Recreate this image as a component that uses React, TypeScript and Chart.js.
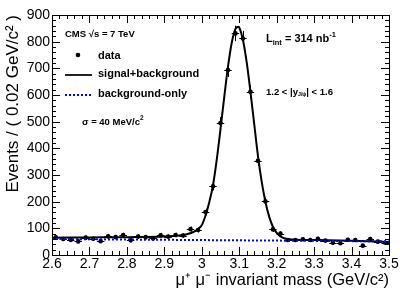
import React, { useEffect, useRef } from "react";
import { Chart, registerables } from "chart.js";

Chart.register(...registerables);

const FONT = "'Liberation Sans', Arial, Helvetica, sans-serif";

// Bin centres (GeV/c^2), 0.02 GeV/c^2 bins
const binCenters = [
  2.61, 2.63, 2.65, 2.67, 2.69, 2.71, 2.73, 2.75, 2.77, 2.79,
  2.81, 2.83, 2.85, 2.87, 2.89, 2.91, 2.93, 2.95, 2.97, 2.99,
  3.01, 3.03, 3.05, 3.07, 3.09, 3.11, 3.13, 3.15, 3.17, 3.19,
  3.21, 3.23, 3.25, 3.27, 3.29, 3.31, 3.33, 3.35, 3.37, 3.39,
  3.41, 3.43, 3.45, 3.47, 3.49,
];
// Events per bin
const counts = [
  66, 60, 56, 51, 65, 61, 52, 70, 67, 75,
  55, 69, 67, 62, 74, 69, 75, 73, 97, 94,
  161, 258, 495, 694, 831, 812, 612, 353, 201, 96,
  80, 56, 56, 59, 56, 61, 54, 46, 44, 57,
  56, 35, 60, 50, 46,
];
const binHalfWidth = 0.01;

// signal+background fit curve
const fitX = [
  2.6, 2.7, 2.8, 2.9, 2.94, 2.96, 2.98, 2.99, 3.0, 3.01, 3.02, 3.03, 3.04,
  3.05, 3.06, 3.07, 3.08, 3.09, 3.097, 3.1, 3.11, 3.12, 3.13, 3.14, 3.15,
  3.16, 3.17, 3.18, 3.19, 3.2, 3.21, 3.22, 3.24, 3.3, 3.4, 3.5,
];
const fitY = [
  65, 66, 67, 69, 73, 78, 88, 97, 112, 148, 198, 262, 358,
  472, 592, 706, 796, 848, 856, 853, 806, 722, 612, 492, 372,
  275, 199, 144, 106, 83, 70, 63, 58, 56, 53, 49,
];

// background-only
const bkgX = [2.6, 3.5];
const bkgY = [60, 51];

const xMin = 2.6, xMax = 3.5, xMajor = 0.1, xMinor = 0.02;
const yMin = 0, yMax = 900, yMajor = 100, yMinor = 20;

const legendLabels = ["data", "signal+background", "background-only"];

type Seg = { t: string; sup?: boolean; sub?: boolean; scale?: number };

function drawRich(ctx: CanvasRenderingContext2D, x: number, y: number, segs: Seg[], size: number, bold = true) {
  let cx = x;
  ctx.textBaseline = "middle";
  ctx.textAlign = "left";
  ctx.fillStyle = "#000";
  for (const s of segs) {
    const sc = s.sup || s.sub ? s.scale ?? 0.68 : 1;
    const fs = size * sc;
    ctx.font = `${bold ? "bold " : ""}${fs}px ${FONT}`;
    let dy = 0;
    if (s.sup) dy = -size * 0.38;
    if (s.sub) dy = size * 0.32;
    ctx.fillText(s.t, cx, y + dy);
    cx += ctx.measureText(s.t).width;
  }
}

const rootPlugin = {
  id: "rootFrame",
  beforeDatasetsDraw(chart: any) {
    const ctx: CanvasRenderingContext2D = chart.ctx;
    const xs = chart.scales.x, ys = chart.scales.y;
    ctx.save();
    ctx.strokeStyle = "#000";
    ctx.lineWidth = 1;
    ctx.beginPath();
    for (let i = 0; i < binCenters.length; i++) {
      const x = binCenters[i], n = counts[i];
      const e = Math.sqrt(n);
      const px = xs.getPixelForValue(x), py = ys.getPixelForValue(n);
      ctx.moveTo(xs.getPixelForValue(x - binHalfWidth), Math.round(py) + 0.5);
      ctx.lineTo(xs.getPixelForValue(x + binHalfWidth), Math.round(py) + 0.5);
      ctx.moveTo(Math.round(px) + 0.5, ys.getPixelForValue(n - e));
      ctx.lineTo(Math.round(px) + 0.5, ys.getPixelForValue(n + e));
    }
    ctx.stroke();
    ctx.restore();
  },
  afterDraw(chart: any) {
    const ctx: CanvasRenderingContext2D = chart.ctx;
    const { left, right, top, bottom } = chart.chartArea;
    const xs = chart.scales.x, ys = chart.scales.y;
    ctx.save();
    ctx.strokeStyle = "#000";
    ctx.lineWidth = 1;
    // frame
    ctx.strokeRect(Math.round(left) + 0.5, Math.round(top) + 0.5, Math.round(right - left), Math.round(bottom - top));
    // ticks
    ctx.beginPath();
    const nx = Math.round((xMax - xMin) / xMinor);
    const perX = Math.round(xMajor / xMinor);
    for (let i = 0; i <= nx; i++) {
      const v = xMin + i * xMinor;
      const p = Math.round(xs.getPixelForValue(v)) + 0.5;
      const L = i % perX === 0 ? 8 : 4;
      ctx.moveTo(p, bottom);
      ctx.lineTo(p, bottom - L);
      ctx.moveTo(p, top);
      ctx.lineTo(p, top + L);
    }
    const ny = Math.round((yMax - yMin) / yMinor);
    const perY = Math.round(yMajor / yMinor);
    for (let i = 0; i <= ny; i++) {
      const v = yMin + i * yMinor;
      const p = Math.round(ys.getPixelForValue(v)) + 0.5;
      const L = i % perY === 0 ? 8 : 4;
      ctx.moveTo(left, p);
      ctx.lineTo(left + L, p);
      ctx.moveTo(right, p);
      ctx.lineTo(right - L, p);
    }
    ctx.stroke();

    // texts
    drawRich(ctx, 65, 34, [{ t: "CMS \u221As = 7 TeV" }], 9.5);
    // legend
    ctx.fillStyle = "#000";
    ctx.beginPath();
    ctx.arc(78, 55, 2.3, 0, Math.PI * 2);
    ctx.fill();
    drawRich(ctx, 98, 56, [{ t: legendLabels[0] }], 11);
    ctx.strokeStyle = "#222";
    ctx.lineWidth = 2;
    ctx.beginPath();
    ctx.moveTo(65, 75);
    ctx.lineTo(92, 75);
    ctx.stroke();
    drawRich(ctx, 98, 74, [{ t: legendLabels[1] }], 11);
    ctx.strokeStyle = "#0000ff";
    ctx.setLineDash([2, 2]);
    ctx.beginPath();
    ctx.moveTo(65, 95);
    ctx.lineTo(92, 95);
    ctx.stroke();
    ctx.setLineDash([]);
    drawRich(ctx, 98, 94, [{ t: legendLabels[2] }], 11);

    drawRich(ctx, 82, 122, [{ t: "\u03C3 = 40 MeV/c" }, { t: "2", sup: true }], 9.5);
    drawRich(ctx, 266, 39, [{ t: "L" }, { t: "int", sub: true }, { t: " = 314 nb" }, { t: "-1", sup: true }], 11);
    drawRich(ctx, 266, 92, [{ t: "1.2 < |y" }, { t: "J/\u03C8", sub: true, scale: 0.55 }, { t: "| < 1.6" }], 9.5);
    ctx.restore();
  },
};

export default function App() {
  const ref = useRef<HTMLCanvasElement | null>(null);
  useEffect(() => {
    document.body.style.margin = "0";
    if (!ref.current) return;
    const chart = new Chart(ref.current, {
      type: "scatter",
      data: {
        datasets: [
          {
            label: "signal+background",
            data: fitX.map((x, i) => ({ x, y: fitY[i] })),
            showLine: true,
            borderColor: "#000",
            borderWidth: 2,
            pointRadius: 0,
            cubicInterpolationMode: "monotone",
            order: 1,
          } as any,
          {
            label: "background-only",
            data: bkgX.map((x, i) => ({ x, y: bkgY[i] })),
            showLine: true,
            borderColor: "#0000ff",
            borderWidth: 2,
            borderDash: [2, 2],
            pointRadius: 0,
            order: 0,
          } as any,
          {
            label: "data",
            data: binCenters.map((x, i) => ({ x, y: counts[i] })),
            pointRadius: 2.3,
            backgroundColor: "#000",
            borderWidth: 0,
            order: 2,
          } as any,
        ],
      },
      options: {
        animation: false,
        responsive: false,
        events: [],
        layout: { padding: { top: 15, right: 20, left: 0, bottom: 0 } },
        plugins: { legend: { display: false }, tooltip: { enabled: false } },
        scales: {
          x: {
            type: "linear",
            min: xMin,
            max: xMax,
            grid: { display: false, drawTicks: false },
            border: { display: false },
            ticks: {
              stepSize: xMajor,
              autoSkip: false,
              maxRotation: 0,
              padding: 1,
              color: "#000",
              font: { family: FONT, size: 14 },
              callback: (v: any) => String(Number(Number(v).toFixed(2))),
            },
            title: {
              display: true,
              text: "\u03BC\u207A \u03BC\u207B invariant mass (GeV/c\u00B2)",
              align: "end",
              color: "#000",
              font: { family: FONT, size: 16.5 },
              padding: { top: 0, bottom: 4 },
            },
            afterFit: (s: any) => { s.height = 39; },
          },
          y: {
            type: "linear",
            min: yMin,
            max: yMax,
            grid: { display: false, drawTicks: false },
            border: { display: false },
            ticks: {
              stepSize: yMajor,
              autoSkip: false,
              padding: 2,
              color: "#000",
              font: { family: FONT, size: 14 },
            },
            title: {
              display: true,
              text: "Events / ( 0.02 GeV/c\u00B2 )",
              align: "end",
              color: "#000",
              font: { family: FONT, size: 17 },
              padding: { top: 3, bottom: 0 },
            },
            afterFit: (s: any) => { s.width = 52; },
          },
        },
      } as any,
      plugins: [rootPlugin],
    });
    return () => chart.destroy();
  }, []);
  return (
    <div style={{ position: "absolute", left: 0, top: 0, width: 409, height: 294 }}>
      <canvas ref={ref} width={409} height={294} style={{ display: "block" }} />
    </div>
  );
}
